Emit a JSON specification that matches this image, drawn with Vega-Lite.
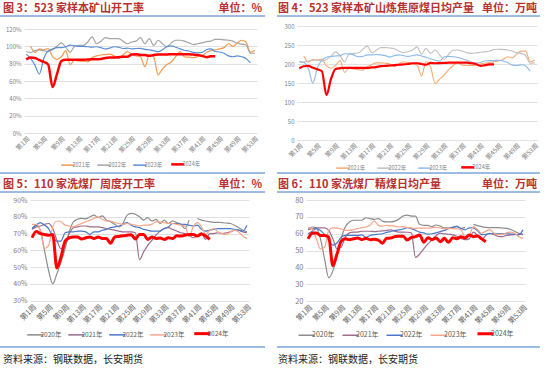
{
"$schema":"https://vega.github.io/schema/vega-lite/v6.json",
"width":550,"height":370,"padding":0,"autosize":{"type":"none"},"background":"white",
"config":{"view":{"stroke":null},"font":"Noto Sans CJK SC","axis":{"labelOverlap":false,"labelBound":false}},
"datasets":{
"p1":[
{"w":2,"y":2021,"v":100},{"w":3,"y":2021,"v":93},{"w":4,"y":2021,"v":97},{"w":5,"y":2021,"v":96},{"w":6,"y":2021,"v":97.5},{"w":7,"y":2021,"v":88},{"w":8,"y":2021,"v":85},{"w":9,"y":2021,"v":88},{"w":10,"y":2021,"v":95},{"w":11,"y":2021,"v":79},{"w":12,"y":2021,"v":84},{"w":13,"y":2021,"v":83},{"w":14,"y":2021,"v":83},{"w":15,"y":2021,"v":82},{"w":16,"y":2021,"v":87},{"w":17,"y":2021,"v":89},{"w":18,"y":2021,"v":90},{"w":19,"y":2021,"v":90.5},{"w":20,"y":2021,"v":91},{"w":21,"y":2021,"v":89},{"w":22,"y":2021,"v":86},{"w":23,"y":2021,"v":90},{"w":24,"y":2021,"v":94},{"w":25,"y":2021,"v":91},{"w":26,"y":2021,"v":89},{"w":27,"y":2021,"v":88},{"w":28,"y":2021,"v":76.5},{"w":29,"y":2021,"v":90},{"w":30,"y":2021,"v":88},{"w":31,"y":2021,"v":67},{"w":32,"y":2021,"v":74},{"w":33,"y":2021,"v":79},{"w":34,"y":2021,"v":82},{"w":35,"y":2021,"v":88},{"w":36,"y":2021,"v":94},{"w":37,"y":2021,"v":88},{"w":38,"y":2021,"v":87.5},{"w":39,"y":2021,"v":87},{"w":40,"y":2021,"v":88},{"w":41,"y":2021,"v":89},{"w":42,"y":2021,"v":93},{"w":43,"y":2021,"v":95},{"w":44,"y":2021,"v":96},{"w":45,"y":2021,"v":97},{"w":46,"y":2021,"v":98.5},{"w":47,"y":2021,"v":103},{"w":48,"y":2021,"v":100},{"w":49,"y":2021,"v":103.5},{"w":50,"y":2021,"v":107},{"w":51,"y":2021,"v":105},{"w":52,"y":2021,"v":93},{"w":53,"y":2021,"v":95.5},
{"w":1,"y":2022,"v":94},{"w":2,"y":2022,"v":93},{"w":3,"y":2022,"v":95},{"w":4,"y":2022,"v":96},{"w":5,"y":2022,"v":95},{"w":6,"y":2022,"v":94},{"w":7,"y":2022,"v":96},{"w":8,"y":2022,"v":100},{"w":9,"y":2022,"v":104},{"w":10,"y":2022,"v":99},{"w":11,"y":2022,"v":93},{"w":12,"y":2022,"v":100},{"w":13,"y":2022,"v":101},{"w":14,"y":2022,"v":101},{"w":15,"y":2022,"v":105},{"w":16,"y":2022,"v":111},{"w":17,"y":2022,"v":103},{"w":18,"y":2022,"v":106},{"w":19,"y":2022,"v":110},{"w":20,"y":2022,"v":109},{"w":21,"y":2022,"v":109},{"w":22,"y":2022,"v":109},{"w":23,"y":2022,"v":106},{"w":24,"y":2022,"v":103},{"w":25,"y":2022,"v":105},{"w":26,"y":2022,"v":106},{"w":27,"y":2022,"v":110},{"w":28,"y":2022,"v":103},{"w":29,"y":2022,"v":109},{"w":30,"y":2022,"v":101},{"w":31,"y":2022,"v":107},{"w":32,"y":2022,"v":103},{"w":33,"y":2022,"v":99.6},{"w":34,"y":2022,"v":104},{"w":35,"y":2022,"v":107},{"w":36,"y":2022,"v":107},{"w":37,"y":2022,"v":106},{"w":38,"y":2022,"v":104},{"w":39,"y":2022,"v":102},{"w":40,"y":2022,"v":103},{"w":41,"y":2022,"v":104},{"w":42,"y":2022,"v":105.4},{"w":43,"y":2022,"v":106},{"w":44,"y":2022,"v":108},{"w":45,"y":2022,"v":108},{"w":46,"y":2022,"v":107.5},{"w":47,"y":2022,"v":107},{"w":48,"y":2022,"v":106},{"w":49,"y":2022,"v":103.5},{"w":50,"y":2022,"v":102.5},{"w":51,"y":2022,"v":101.5},{"w":52,"y":2022,"v":92},{"w":53,"y":2022,"v":92},
{"w":1,"y":2023,"v":91},{"w":2,"y":2023,"v":86},{"w":3,"y":2023,"v":78},{"w":4,"y":2023,"v":68},{"w":5,"y":2023,"v":86},{"w":6,"y":2023,"v":95},{"w":7,"y":2023,"v":97},{"w":8,"y":2023,"v":98.5},{"w":9,"y":2023,"v":98.5},{"w":10,"y":2023,"v":99.5},{"w":11,"y":2023,"v":101.5},{"w":12,"y":2023,"v":100.5},{"w":13,"y":2023,"v":100},{"w":14,"y":2023,"v":100},{"w":15,"y":2023,"v":99.5},{"w":16,"y":2023,"v":99},{"w":17,"y":2023,"v":99.5},{"w":18,"y":2023,"v":98.5},{"w":19,"y":2023,"v":97},{"w":20,"y":2023,"v":98},{"w":21,"y":2023,"v":99.5},{"w":22,"y":2023,"v":99},{"w":23,"y":2023,"v":97.5},{"w":24,"y":2023,"v":98},{"w":25,"y":2023,"v":97},{"w":26,"y":2023,"v":97.5},{"w":27,"y":2023,"v":97.7},{"w":28,"y":2023,"v":96.5},{"w":29,"y":2023,"v":96},{"w":30,"y":2023,"v":95},{"w":31,"y":2023,"v":93.8},{"w":32,"y":2023,"v":96},{"w":33,"y":2023,"v":99.6},{"w":34,"y":2023,"v":100.5},{"w":35,"y":2023,"v":99},{"w":36,"y":2023,"v":97},{"w":37,"y":2023,"v":95.5},{"w":38,"y":2023,"v":94.6},{"w":39,"y":2023,"v":93},{"w":40,"y":2023,"v":92.5},{"w":41,"y":2023,"v":93},{"w":42,"y":2023,"v":96},{"w":43,"y":2023,"v":97},{"w":44,"y":2023,"v":94},{"w":45,"y":2023,"v":93.5},{"w":46,"y":2023,"v":92},{"w":47,"y":2023,"v":89},{"w":48,"y":2023,"v":88},{"w":49,"y":2023,"v":89},{"w":50,"y":2023,"v":88},{"w":51,"y":2023,"v":86},{"w":52,"y":2023,"v":81},
{"w":1,"y":2024,"v":85},{"w":2,"y":2024,"v":87},{"w":3,"y":2024,"v":86.5},{"w":4,"y":2024,"v":84},{"w":5,"y":2024,"v":82},{"w":6,"y":2024,"v":79},{"w":7,"y":2024,"v":53},{"w":8,"y":2024,"v":68},{"w":9,"y":2024,"v":83},{"w":10,"y":2024,"v":84.5},{"w":11,"y":2024,"v":84.5},{"w":12,"y":2024,"v":84.5},{"w":13,"y":2024,"v":84.5},{"w":14,"y":2024,"v":84.5},{"w":15,"y":2024,"v":84.8},{"w":16,"y":2024,"v":85},{"w":17,"y":2024,"v":85},{"w":18,"y":2024,"v":85.5},{"w":19,"y":2024,"v":86.5},{"w":20,"y":2024,"v":87},{"w":21,"y":2024,"v":87},{"w":22,"y":2024,"v":87.5},{"w":23,"y":2024,"v":88},{"w":24,"y":2024,"v":88},{"w":25,"y":2024,"v":90.5},{"w":26,"y":2024,"v":91},{"w":27,"y":2024,"v":90},{"w":28,"y":2024,"v":90},{"w":29,"y":2024,"v":89},{"w":30,"y":2024,"v":90},{"w":31,"y":2024,"v":90.5},{"w":32,"y":2024,"v":90.5},{"w":33,"y":2024,"v":90.5},{"w":34,"y":2024,"v":91},{"w":35,"y":2024,"v":91},{"w":36,"y":2024,"v":91},{"w":37,"y":2024,"v":91},{"w":38,"y":2024,"v":91},{"w":39,"y":2024,"v":90.5},{"w":40,"y":2024,"v":90},{"w":41,"y":2024,"v":89},{"w":42,"y":2024,"v":87.5},{"w":43,"y":2024,"v":88.5},{"w":44,"y":2024,"v":88.5}
],
"p2":[
{"w":2,"y":2021,"v":221},{"w":3,"y":2021,"v":205},{"w":4,"y":2021,"v":212},{"w":5,"y":2021,"v":210},{"w":6,"y":2021,"v":213},{"w":7,"y":2021,"v":195},{"w":8,"y":2021,"v":189},{"w":9,"y":2021,"v":196},{"w":10,"y":2021,"v":209},{"w":11,"y":2021,"v":178},{"w":12,"y":2021,"v":189},{"w":13,"y":2021,"v":187},{"w":14,"y":2021,"v":185},{"w":15,"y":2021,"v":184},{"w":16,"y":2021,"v":192},{"w":17,"y":2021,"v":198},{"w":18,"y":2021,"v":203},{"w":19,"y":2021,"v":203},{"w":20,"y":2021,"v":202},{"w":21,"y":2021,"v":200},{"w":22,"y":2021,"v":193},{"w":23,"y":2021,"v":200},{"w":24,"y":2021,"v":206},{"w":25,"y":2021,"v":203},{"w":26,"y":2021,"v":200},{"w":27,"y":2021,"v":198},{"w":28,"y":2021,"v":168},{"w":29,"y":2021,"v":206},{"w":30,"y":2021,"v":192},{"w":31,"y":2021,"v":149},{"w":32,"y":2021,"v":160},{"w":33,"y":2021,"v":171},{"w":34,"y":2021,"v":185},{"w":35,"y":2021,"v":196},{"w":36,"y":2021,"v":205},{"w":37,"y":2021,"v":197},{"w":38,"y":2021,"v":196},{"w":39,"y":2021,"v":196},{"w":40,"y":2021,"v":197},{"w":41,"y":2021,"v":200},{"w":42,"y":2021,"v":202},{"w":43,"y":2021,"v":204},{"w":44,"y":2021,"v":206},{"w":45,"y":2021,"v":208},{"w":46,"y":2021,"v":212},{"w":47,"y":2021,"v":219},{"w":48,"y":2021,"v":216},{"w":49,"y":2021,"v":226},{"w":50,"y":2021,"v":234},{"w":51,"y":2021,"v":234},{"w":52,"y":2021,"v":206},{"w":53,"y":2021,"v":210},
{"w":1,"y":2022,"v":206},{"w":2,"y":2022,"v":205},{"w":3,"y":2022,"v":208},{"w":4,"y":2022,"v":210},{"w":5,"y":2022,"v":210},{"w":6,"y":2022,"v":208},{"w":7,"y":2022,"v":212},{"w":8,"y":2022,"v":220},{"w":9,"y":2022,"v":232},{"w":10,"y":2022,"v":222},{"w":11,"y":2022,"v":206},{"w":12,"y":2022,"v":226},{"w":13,"y":2022,"v":228},{"w":14,"y":2022,"v":229},{"w":15,"y":2022,"v":238},{"w":16,"y":2022,"v":247},{"w":17,"y":2022,"v":230},{"w":18,"y":2022,"v":236},{"w":19,"y":2022,"v":243},{"w":20,"y":2022,"v":243},{"w":21,"y":2022,"v":242},{"w":22,"y":2022,"v":240},{"w":23,"y":2022,"v":234},{"w":24,"y":2022,"v":230},{"w":25,"y":2022,"v":232},{"w":26,"y":2022,"v":237},{"w":27,"y":2022,"v":245},{"w":28,"y":2022,"v":226},{"w":29,"y":2022,"v":241},{"w":30,"y":2022,"v":228},{"w":31,"y":2022,"v":237},{"w":32,"y":2022,"v":224},{"w":33,"y":2022,"v":212},{"w":34,"y":2022,"v":226},{"w":35,"y":2022,"v":236},{"w":36,"y":2022,"v":237},{"w":37,"y":2022,"v":234},{"w":38,"y":2022,"v":230},{"w":39,"y":2022,"v":228},{"w":40,"y":2022,"v":229},{"w":41,"y":2022,"v":231},{"w":42,"y":2022,"v":232},{"w":43,"y":2022,"v":234},{"w":44,"y":2022,"v":238},{"w":45,"y":2022,"v":239},{"w":46,"y":2022,"v":238},{"w":47,"y":2022,"v":237},{"w":48,"y":2022,"v":234},{"w":49,"y":2022,"v":230},{"w":50,"y":2022,"v":228},{"w":51,"y":2022,"v":222},{"w":52,"y":2022,"v":202},{"w":53,"y":2022,"v":203},
{"w":1,"y":2023,"v":206},{"w":2,"y":2023,"v":204},{"w":3,"y":2023,"v":188},{"w":4,"y":2023,"v":150},{"w":5,"y":2023,"v":190},{"w":6,"y":2023,"v":210},{"w":7,"y":2023,"v":218},{"w":8,"y":2023,"v":220},{"w":9,"y":2023,"v":221},{"w":10,"y":2023,"v":222},{"w":11,"y":2023,"v":227},{"w":12,"y":2023,"v":227},{"w":13,"y":2023,"v":224},{"w":14,"y":2023,"v":219},{"w":15,"y":2023,"v":220},{"w":16,"y":2023,"v":224},{"w":17,"y":2023,"v":224},{"w":18,"y":2023,"v":225},{"w":19,"y":2023,"v":224},{"w":20,"y":2023,"v":222},{"w":21,"y":2023,"v":218},{"w":22,"y":2023,"v":222},{"w":23,"y":2023,"v":224},{"w":24,"y":2023,"v":222},{"w":25,"y":2023,"v":220},{"w":26,"y":2023,"v":222},{"w":27,"y":2023,"v":224},{"w":28,"y":2023,"v":221},{"w":29,"y":2023,"v":218},{"w":30,"y":2023,"v":214},{"w":31,"y":2023,"v":210},{"w":32,"y":2023,"v":207},{"w":33,"y":2023,"v":219},{"w":34,"y":2023,"v":220},{"w":35,"y":2023,"v":219},{"w":36,"y":2023,"v":217},{"w":37,"y":2023,"v":214},{"w":38,"y":2023,"v":210},{"w":39,"y":2023,"v":205},{"w":40,"y":2023,"v":202},{"w":41,"y":2023,"v":204},{"w":42,"y":2023,"v":208},{"w":43,"y":2023,"v":209},{"w":44,"y":2023,"v":209},{"w":45,"y":2023,"v":210},{"w":46,"y":2023,"v":208},{"w":47,"y":2023,"v":204},{"w":48,"y":2023,"v":197},{"w":49,"y":2023,"v":196},{"w":50,"y":2023,"v":198},{"w":51,"y":2023,"v":195},{"w":52,"y":2023,"v":181},
{"w":1,"y":2024,"v":189},{"w":2,"y":2024,"v":194},{"w":3,"y":2024,"v":195},{"w":4,"y":2024,"v":190},{"w":5,"y":2024,"v":186},{"w":6,"y":2024,"v":181},{"w":7,"y":2024,"v":118},{"w":8,"y":2024,"v":160},{"w":9,"y":2024,"v":187},{"w":10,"y":2024,"v":189},{"w":11,"y":2024,"v":190},{"w":12,"y":2024,"v":190},{"w":13,"y":2024,"v":190},{"w":14,"y":2024,"v":190},{"w":15,"y":2024,"v":190},{"w":16,"y":2024,"v":190},{"w":17,"y":2024,"v":191},{"w":18,"y":2024,"v":192},{"w":19,"y":2024,"v":194.5},{"w":20,"y":2024,"v":195},{"w":21,"y":2024,"v":196},{"w":22,"y":2024,"v":197},{"w":23,"y":2024,"v":198},{"w":24,"y":2024,"v":199},{"w":25,"y":2024,"v":200},{"w":26,"y":2024,"v":202},{"w":27,"y":2024,"v":202},{"w":28,"y":2024,"v":200},{"w":29,"y":2024,"v":198},{"w":30,"y":2024,"v":203},{"w":31,"y":2024,"v":202},{"w":32,"y":2024,"v":202.5},{"w":33,"y":2024,"v":203},{"w":34,"y":2024,"v":203.5},{"w":35,"y":2024,"v":203.5},{"w":36,"y":2024,"v":203.5},{"w":37,"y":2024,"v":203.5},{"w":38,"y":2024,"v":203.5},{"w":39,"y":2024,"v":202},{"w":40,"y":2024,"v":200},{"w":41,"y":2024,"v":195},{"w":42,"y":2024,"v":197},{"w":43,"y":2024,"v":199},{"w":44,"y":2024,"v":199}
],
"p3":[
{"w":1,"y":2020,"v":73},{"w":2,"y":2020,"v":75},{"w":3,"y":2020,"v":72},{"w":4,"y":2020,"v":60},{"w":5,"y":2020,"v":48},{"w":6,"y":2020,"v":40},{"w":7,"y":2020,"v":46},{"w":8,"y":2020,"v":53},{"w":9,"y":2020,"v":61},{"w":10,"y":2020,"v":71},{"w":11,"y":2020,"v":77},{"w":12,"y":2020,"v":78.5},{"w":13,"y":2020,"v":79},{"w":14,"y":2020,"v":78.7},{"w":15,"y":2020,"v":80},{"w":16,"y":2020,"v":81},{"w":17,"y":2020,"v":79.5},{"w":18,"y":2020,"v":80.5},{"w":19,"y":2020,"v":78},{"w":20,"y":2020,"v":77},{"w":21,"y":2020,"v":75.5},{"w":22,"y":2020,"v":74},{"w":23,"y":2020,"v":76},{"w":24,"y":2020,"v":81},{"w":25,"y":2020,"v":82},{"w":26,"y":2020,"v":81.5},{"w":27,"y":2020,"v":80},{"w":28,"y":2020,"v":78},{"w":29,"y":2020,"v":79.5},{"w":30,"y":2020,"v":77.5},{"w":31,"y":2020,"v":78.5},{"w":32,"y":2020,"v":76},{"w":33,"y":2020,"v":78},{"w":34,"y":2020,"v":76},{"w":35,"y":2020,"v":77.5},{"w":36,"y":2020,"v":76.5},{"w":37,"y":2020,"v":75.5},{"w":38,"y":2020,"v":73},{"w":39,"y":2020,"v":78},{"w":40,"y":2020,"v":null},{"w":41,"y":2020,"v":79},{"w":42,"y":2020,"v":78},{"w":43,"y":2020,"v":77.5},{"w":44,"y":2020,"v":77},{"w":45,"y":2020,"v":76.7},{"w":46,"y":2020,"v":76.7},{"w":47,"y":2020,"v":76.5},{"w":48,"y":2020,"v":76.3},{"w":49,"y":2020,"v":76},{"w":50,"y":2020,"v":75},{"w":51,"y":2020,"v":73.5},{"w":52,"y":2020,"v":72},{"w":53,"y":2020,"v":71},
{"w":1,"y":2021,"v":72.5},{"w":2,"y":2021,"v":74},{"w":3,"y":2021,"v":74.5},{"w":4,"y":2021,"v":75.5},{"w":5,"y":2021,"v":76},{"w":6,"y":2021,"v":73},{"w":7,"y":2021,"v":66},{"w":8,"y":2021,"v":61},{"w":9,"y":2021,"v":64},{"w":10,"y":2021,"v":70},{"w":11,"y":2021,"v":73.5},{"w":12,"y":2021,"v":74},{"w":13,"y":2021,"v":74.5},{"w":14,"y":2021,"v":74.5},{"w":15,"y":2021,"v":74},{"w":16,"y":2021,"v":74},{"w":17,"y":2021,"v":74},{"w":18,"y":2021,"v":73.5},{"w":19,"y":2021,"v":73},{"w":20,"y":2021,"v":72.5},{"w":21,"y":2021,"v":72},{"w":22,"y":2021,"v":71.5},{"w":23,"y":2021,"v":71},{"w":24,"y":2021,"v":71},{"w":25,"y":2021,"v":71},{"w":26,"y":2021,"v":70.5},{"w":27,"y":2021,"v":54.5},{"w":28,"y":2021,"v":59},{"w":29,"y":2021,"v":63},{"w":30,"y":2021,"v":66},{"w":31,"y":2021,"v":69},{"w":32,"y":2021,"v":71.5},{"w":33,"y":2021,"v":73},{"w":34,"y":2021,"v":73.5},{"w":35,"y":2021,"v":72.5},{"w":36,"y":2021,"v":71.5},{"w":37,"y":2021,"v":70.5},{"w":38,"y":2021,"v":70},{"w":39,"y":2021,"v":69},{"w":40,"y":2021,"v":67.5},{"w":41,"y":2021,"v":68.5},{"w":42,"y":2021,"v":70.5},{"w":43,"y":2021,"v":66.5},{"w":44,"y":2021,"v":70},{"w":45,"y":2021,"v":70},{"w":46,"y":2021,"v":70.5},{"w":47,"y":2021,"v":70},{"w":48,"y":2021,"v":70.5},{"w":49,"y":2021,"v":71},{"w":50,"y":2021,"v":72},{"w":51,"y":2021,"v":72},{"w":52,"y":2021,"v":71},{"w":53,"y":2021,"v":70.5},
{"w":1,"y":2022,"v":73},{"w":2,"y":2022,"v":75},{"w":3,"y":2022,"v":76.5},{"w":4,"y":2022,"v":75},{"w":5,"y":2022,"v":73},{"w":6,"y":2022,"v":68},{"w":7,"y":2022,"v":65.5},{"w":8,"y":2022,"v":65.5},{"w":9,"y":2022,"v":70.5},{"w":10,"y":2022,"v":71},{"w":11,"y":2022,"v":71},{"w":12,"y":2022,"v":71.5},{"w":13,"y":2022,"v":71.5},{"w":14,"y":2022,"v":71},{"w":15,"y":2022,"v":69.5},{"w":16,"y":2022,"v":71},{"w":17,"y":2022,"v":71},{"w":18,"y":2022,"v":72},{"w":19,"y":2022,"v":72.5},{"w":20,"y":2022,"v":73.5},{"w":21,"y":2022,"v":74},{"w":22,"y":2022,"v":74.5},{"w":23,"y":2022,"v":75.5},{"w":24,"y":2022,"v":76.5},{"w":25,"y":2022,"v":75},{"w":26,"y":2022,"v":74},{"w":27,"y":2022,"v":73.5},{"w":28,"y":2022,"v":72.5},{"w":29,"y":2022,"v":72},{"w":30,"y":2022,"v":71.5},{"w":31,"y":2022,"v":71.5},{"w":32,"y":2022,"v":71.5},{"w":33,"y":2022,"v":73},{"w":34,"y":2022,"v":74},{"w":35,"y":2022,"v":76},{"w":36,"y":2022,"v":76},{"w":37,"y":2022,"v":75.5},{"w":38,"y":2022,"v":75.5},{"w":39,"y":2022,"v":75},{"w":40,"y":2022,"v":74.5},{"w":41,"y":2022,"v":75},{"w":42,"y":2022,"v":72.5},{"w":43,"y":2022,"v":71.5},{"w":44,"y":2022,"v":72},{"w":45,"y":2022,"v":72.5},{"w":46,"y":2022,"v":73},{"w":47,"y":2022,"v":73},{"w":48,"y":2022,"v":73},{"w":49,"y":2022,"v":73},{"w":50,"y":2022,"v":72.5},{"w":51,"y":2022,"v":72},{"w":52,"y":2022,"v":71.5},{"w":53,"y":2022,"v":75},
{"w":1,"y":2023,"v":75.5},{"w":2,"y":2023,"v":75.5},{"w":3,"y":2023,"v":72},{"w":4,"y":2023,"v":61},{"w":5,"y":2023,"v":63},{"w":6,"y":2023,"v":74},{"w":7,"y":2023,"v":77.5},{"w":8,"y":2023,"v":77},{"w":9,"y":2023,"v":75},{"w":10,"y":2023,"v":74.5},{"w":11,"y":2023,"v":74},{"w":12,"y":2023,"v":75},{"w":13,"y":2023,"v":76},{"w":14,"y":2023,"v":77},{"w":15,"y":2023,"v":78},{"w":16,"y":2023,"v":79},{"w":17,"y":2023,"v":80},{"w":18,"y":2023,"v":78.5},{"w":19,"y":2023,"v":77.5},{"w":20,"y":2023,"v":77.5},{"w":21,"y":2023,"v":76.5},{"w":22,"y":2023,"v":76},{"w":23,"y":2023,"v":75.5},{"w":24,"y":2023,"v":76},{"w":25,"y":2023,"v":75.5},{"w":26,"y":2023,"v":75},{"w":27,"y":2023,"v":74.5},{"w":28,"y":2023,"v":75},{"w":29,"y":2023,"v":75},{"w":30,"y":2023,"v":75.5},{"w":31,"y":2023,"v":77},{"w":32,"y":2023,"v":77},{"w":33,"y":2023,"v":76.5},{"w":34,"y":2023,"v":76},{"w":35,"y":2023,"v":76},{"w":36,"y":2023,"v":75.5},{"w":37,"y":2023,"v":75},{"w":38,"y":2023,"v":74.5},{"w":39,"y":2023,"v":68},{"w":40,"y":2023,"v":74},{"w":41,"y":2023,"v":76.5},{"w":42,"y":2023,"v":74},{"w":43,"y":2023,"v":69.5},{"w":44,"y":2023,"v":72},{"w":45,"y":2023,"v":73},{"w":46,"y":2023,"v":71},{"w":47,"y":2023,"v":70},{"w":48,"y":2023,"v":69.5},{"w":49,"y":2023,"v":71},{"w":50,"y":2023,"v":72},{"w":51,"y":2023,"v":71},{"w":52,"y":2023,"v":68.5},{"w":53,"y":2023,"v":67},
{"w":1,"y":2024,"v":67.5},{"w":2,"y":2024,"v":71.3},{"w":3,"y":2024,"v":70},{"w":4,"y":2024,"v":69.5},{"w":5,"y":2024,"v":69},{"w":6,"y":2024,"v":69.5},{"w":7,"y":2024,"v":49.5},{"w":8,"y":2024,"v":56},{"w":9,"y":2024,"v":65.5},{"w":10,"y":2024,"v":67.5},{"w":11,"y":2024,"v":68},{"w":12,"y":2024,"v":68},{"w":13,"y":2024,"v":66.8},{"w":14,"y":2024,"v":67.5},{"w":15,"y":2024,"v":68},{"w":16,"y":2024,"v":67},{"w":17,"y":2024,"v":68},{"w":18,"y":2024,"v":67},{"w":19,"y":2024,"v":67},{"w":20,"y":2024,"v":64.2},{"w":21,"y":2024,"v":68},{"w":22,"y":2024,"v":68.3},{"w":23,"y":2024,"v":68.7},{"w":24,"y":2024,"v":69},{"w":25,"y":2024,"v":69.3},{"w":26,"y":2024,"v":66.8},{"w":27,"y":2024,"v":69.5},{"w":28,"y":2024,"v":69.5},{"w":29,"y":2024,"v":66.5},{"w":30,"y":2024,"v":68},{"w":31,"y":2024,"v":67},{"w":32,"y":2024,"v":67.3},{"w":33,"y":2024,"v":66.5},{"w":34,"y":2024,"v":67.5},{"w":35,"y":2024,"v":67},{"w":36,"y":2024,"v":68.7},{"w":37,"y":2024,"v":68.5},{"w":38,"y":2024,"v":69},{"w":39,"y":2024,"v":69.5},{"w":40,"y":2024,"v":69.5},{"w":41,"y":2024,"v":68.5},{"w":42,"y":2024,"v":69.8},{"w":43,"y":2024,"v":68.5},{"w":44,"y":2024,"v":66.5}
],
"p4":[
{"w":1,"y":2020,"v":63},{"w":2,"y":2020,"v":64},{"w":3,"y":2020,"v":63.5},{"w":4,"y":2020,"v":57},{"w":5,"y":2020,"v":45},{"w":6,"y":2020,"v":34},{"w":7,"y":2020,"v":38},{"w":8,"y":2020,"v":47},{"w":9,"y":2020,"v":57},{"w":10,"y":2020,"v":64},{"w":11,"y":2020,"v":67},{"w":12,"y":2020,"v":68},{"w":13,"y":2020,"v":68},{"w":14,"y":2020,"v":68},{"w":15,"y":2020,"v":69.5},{"w":16,"y":2020,"v":69},{"w":17,"y":2020,"v":68.5},{"w":18,"y":2020,"v":69},{"w":19,"y":2020,"v":67.5},{"w":20,"y":2020,"v":67},{"w":21,"y":2020,"v":67},{"w":22,"y":2020,"v":67.5},{"w":23,"y":2020,"v":68.8},{"w":24,"y":2020,"v":70.5},{"w":25,"y":2020,"v":71},{"w":26,"y":2020,"v":70.5},{"w":27,"y":2020,"v":70.5},{"w":28,"y":2020,"v":65.6},{"w":29,"y":2020,"v":65},{"w":30,"y":2020,"v":65},{"w":31,"y":2020,"v":64.2},{"w":32,"y":2020,"v":65.2},{"w":33,"y":2020,"v":64.5},{"w":34,"y":2020,"v":63.5},{"w":35,"y":2020,"v":63.5},{"w":36,"y":2020,"v":64},{"w":37,"y":2020,"v":64.6},{"w":38,"y":2020,"v":63.2},{"w":39,"y":2020,"v":63.6},{"w":40,"y":2020,"v":null},{"w":41,"y":2020,"v":65.6},{"w":42,"y":2020,"v":64.8},{"w":43,"y":2020,"v":64.2},{"w":44,"y":2020,"v":63.8},{"w":45,"y":2020,"v":63.6},{"w":46,"y":2020,"v":63.6},{"w":47,"y":2020,"v":63.6},{"w":48,"y":2020,"v":63.4},{"w":49,"y":2020,"v":63.2},{"w":50,"y":2020,"v":62.5},{"w":51,"y":2020,"v":61.5},{"w":52,"y":2020,"v":60.2},{"w":53,"y":2020,"v":59.5},
{"w":1,"y":2021,"v":62.5},{"w":2,"y":2021,"v":63},{"w":3,"y":2021,"v":63.5},{"w":4,"y":2021,"v":63.5},{"w":5,"y":2021,"v":63.5},{"w":6,"y":2021,"v":62},{"w":7,"y":2021,"v":57},{"w":8,"y":2021,"v":51},{"w":9,"y":2021,"v":52},{"w":10,"y":2021,"v":58},{"w":11,"y":2021,"v":60.5},{"w":12,"y":2021,"v":61},{"w":13,"y":2021,"v":61},{"w":14,"y":2021,"v":61.5},{"w":15,"y":2021,"v":61.5},{"w":16,"y":2021,"v":61.5},{"w":17,"y":2021,"v":61.3},{"w":18,"y":2021,"v":61.5},{"w":19,"y":2021,"v":61.7},{"w":20,"y":2021,"v":62},{"w":21,"y":2021,"v":62.3},{"w":22,"y":2021,"v":61.5},{"w":23,"y":2021,"v":61},{"w":24,"y":2021,"v":61},{"w":25,"y":2021,"v":60.9},{"w":26,"y":2021,"v":60.5},{"w":27,"y":2021,"v":46},{"w":28,"y":2021,"v":48},{"w":29,"y":2021,"v":51},{"w":30,"y":2021,"v":54},{"w":31,"y":2021,"v":56.5},{"w":32,"y":2021,"v":59},{"w":33,"y":2021,"v":60.3},{"w":34,"y":2021,"v":60},{"w":35,"y":2021,"v":59.7},{"w":36,"y":2021,"v":59.3},{"w":37,"y":2021,"v":58.5},{"w":38,"y":2021,"v":57.3},{"w":39,"y":2021,"v":56.5},{"w":40,"y":2021,"v":57},{"w":41,"y":2021,"v":61},{"w":42,"y":2021,"v":59},{"w":43,"y":2021,"v":56.5},{"w":44,"y":2021,"v":59},{"w":45,"y":2021,"v":60.3},{"w":46,"y":2021,"v":59.5},{"w":47,"y":2021,"v":58.5},{"w":48,"y":2021,"v":58.3},{"w":49,"y":2021,"v":59},{"w":50,"y":2021,"v":59.3},{"w":51,"y":2021,"v":59.5},{"w":52,"y":2021,"v":59.7},{"w":53,"y":2021,"v":59.8},
{"w":1,"y":2022,"v":60},{"w":2,"y":2022,"v":61.5},{"w":3,"y":2022,"v":63},{"w":4,"y":2022,"v":62},{"w":5,"y":2022,"v":59.5},{"w":6,"y":2022,"v":56},{"w":7,"y":2022,"v":53.3},{"w":8,"y":2022,"v":54.5},{"w":9,"y":2022,"v":58},{"w":10,"y":2022,"v":59},{"w":11,"y":2022,"v":59},{"w":12,"y":2022,"v":59},{"w":13,"y":2022,"v":59},{"w":14,"y":2022,"v":59.3},{"w":15,"y":2022,"v":57.9},{"w":16,"y":2022,"v":59},{"w":17,"y":2022,"v":59.5},{"w":18,"y":2022,"v":59.7},{"w":19,"y":2022,"v":60},{"w":20,"y":2022,"v":60.8},{"w":21,"y":2022,"v":61.3},{"w":22,"y":2022,"v":62},{"w":23,"y":2022,"v":62.3},{"w":24,"y":2022,"v":62.8},{"w":25,"y":2022,"v":63.6},{"w":26,"y":2022,"v":63},{"w":27,"y":2022,"v":62},{"w":28,"y":2022,"v":61},{"w":29,"y":2022,"v":60.5},{"w":30,"y":2022,"v":59.8},{"w":31,"y":2022,"v":60},{"w":32,"y":2022,"v":60.5},{"w":33,"y":2022,"v":61.3},{"w":34,"y":2022,"v":62},{"w":35,"y":2022,"v":63},{"w":36,"y":2022,"v":63.6},{"w":37,"y":2022,"v":64.2},{"w":38,"y":2022,"v":63.2},{"w":39,"y":2022,"v":62.3},{"w":40,"y":2022,"v":63.5},{"w":41,"y":2022,"v":63.5},{"w":42,"y":2022,"v":61.8},{"w":43,"y":2022,"v":59.5},{"w":44,"y":2022,"v":59.7},{"w":45,"y":2022,"v":60},{"w":46,"y":2022,"v":60.3},{"w":47,"y":2022,"v":60},{"w":48,"y":2022,"v":60},{"w":49,"y":2022,"v":60},{"w":50,"y":2022,"v":59.8},{"w":51,"y":2022,"v":59.7},{"w":52,"y":2022,"v":59.3},{"w":53,"y":2022,"v":62.3},
{"w":1,"y":2023,"v":63.5},{"w":2,"y":2023,"v":63},{"w":3,"y":2023,"v":57},{"w":4,"y":2023,"v":51},{"w":5,"y":2023,"v":52},{"w":6,"y":2023,"v":62},{"w":7,"y":2023,"v":63.5},{"w":8,"y":2023,"v":63.3},{"w":9,"y":2023,"v":62.8},{"w":10,"y":2023,"v":62},{"w":11,"y":2023,"v":62},{"w":12,"y":2023,"v":62.5},{"w":13,"y":2023,"v":63},{"w":14,"y":2023,"v":63.6},{"w":15,"y":2023,"v":64},{"w":16,"y":2023,"v":65},{"w":17,"y":2023,"v":67.6},{"w":18,"y":2023,"v":65},{"w":19,"y":2023,"v":64.5},{"w":20,"y":2023,"v":65},{"w":21,"y":2023,"v":64.8},{"w":22,"y":2023,"v":64.5},{"w":23,"y":2023,"v":64},{"w":24,"y":2023,"v":64.2},{"w":25,"y":2023,"v":63.8},{"w":26,"y":2023,"v":63.5},{"w":27,"y":2023,"v":63.2},{"w":28,"y":2023,"v":63.4},{"w":29,"y":2023,"v":63.4},{"w":30,"y":2023,"v":63.4},{"w":31,"y":2023,"v":63.5},{"w":32,"y":2023,"v":63.8},{"w":33,"y":2023,"v":63.4},{"w":34,"y":2023,"v":63},{"w":35,"y":2023,"v":63},{"w":36,"y":2023,"v":63},{"w":37,"y":2023,"v":63},{"w":38,"y":2023,"v":62.3},{"w":39,"y":2023,"v":58.3},{"w":40,"y":2023,"v":59},{"w":41,"y":2023,"v":64.2},{"w":42,"y":2023,"v":62.5},{"w":43,"y":2023,"v":60.3},{"w":44,"y":2023,"v":61.5},{"w":45,"y":2023,"v":62.5},{"w":46,"y":2023,"v":60.3},{"w":47,"y":2023,"v":59.5},{"w":48,"y":2023,"v":59.5},{"w":49,"y":2023,"v":60.5},{"w":50,"y":2023,"v":61},{"w":51,"y":2023,"v":60.3},{"w":52,"y":2023,"v":58.3},{"w":53,"y":2023,"v":57.3},
{"w":1,"y":2024,"v":57},{"w":2,"y":2024,"v":60.3},{"w":3,"y":2024,"v":60.5},{"w":4,"y":2024,"v":59},{"w":5,"y":2024,"v":59},{"w":6,"y":2024,"v":58},{"w":7,"y":2024,"v":41},{"w":8,"y":2024,"v":48},{"w":9,"y":2024,"v":55.5},{"w":10,"y":2024,"v":57},{"w":11,"y":2024,"v":56.5},{"w":12,"y":2024,"v":57},{"w":13,"y":2024,"v":57.5},{"w":14,"y":2024,"v":56.5},{"w":15,"y":2024,"v":57.3},{"w":16,"y":2024,"v":56.5},{"w":17,"y":2024,"v":56.8},{"w":18,"y":2024,"v":56.3},{"w":19,"y":2024,"v":54.4},{"w":20,"y":2024,"v":57.3},{"w":21,"y":2024,"v":57.5},{"w":22,"y":2024,"v":58.3},{"w":23,"y":2024,"v":58.5},{"w":24,"y":2024,"v":58.6},{"w":25,"y":2024,"v":56.3},{"w":26,"y":2024,"v":57.8},{"w":27,"y":2024,"v":58.3},{"w":28,"y":2024,"v":59.3},{"w":29,"y":2024,"v":55},{"w":30,"y":2024,"v":57.7},{"w":31,"y":2024,"v":56.5},{"w":32,"y":2024,"v":57.5},{"w":33,"y":2024,"v":55.3},{"w":34,"y":2024,"v":57.3},{"w":35,"y":2024,"v":55},{"w":36,"y":2024,"v":57.7},{"w":37,"y":2024,"v":57},{"w":38,"y":2024,"v":58.3},{"w":39,"y":2024,"v":57.5},{"w":40,"y":2024,"v":59.3},{"w":41,"y":2024,"v":58.3},{"w":42,"y":2024,"v":58.7},{"w":43,"y":2024,"v":57},{"w":44,"y":2024,"v":55.3}
]},
"layer":[
 {"data":{"name":"p1"},"mark":{"type":"line","interpolate":"monotone"},
  "encoding":{
   "x":{"field":"w","type":"quantitative","scale":{"domain":[0.5,53.5],"range":[24,257],"nice":false,"zero":false},
        "axis":{"orient":"bottom","offset":-237,"values":[1,5,9,13,17,21,25,29,33,37,41,45,49,53],"labelExpr":"'第' + datum.value + '周'","labelAngle":-45,"labelAlign":"right","labelBaseline":"top","labelFontSize":6.5,"labelColor":"#7F7F7F","labelPadding":2,"domain":false,"ticks":false,"grid":false,"title":null}},
   "y":{"field":"v","type":"quantitative","scale":{"domain":[0,120],"range":[133,29],"nice":false,"zero":false},
        "axis":{"orient":"left","offset":-24,"values":[0,20,40,60,80,100,120],"labelExpr":"datum.value + '%'","labelFontSize":6,"labelColor":"#7F7F7F","labelPadding":3,"domain":false,"ticks":false,"grid":true,"gridColor":"#D9D9D9","gridWidth":0.8,"title":null}},
   "color":{"field":"y","type":"nominal","scale":{"domain":[2021,2022,2023,2024],"range":["#F39A50","#A5A5A5","#5B8FD8","#FF0000"]},
        "legend":{"orient":"none","legendX":65,"legendY":161.5,"direction":"horizontal","title":null,"symbolType":"stroke","symbolSize":169,"symbolStrokeWidth":{"expr":"datum.value == 2024 ? 2.5 : 1.5"},"labelExpr":"datum.label + '年'","labelFontSize":5.5,"labelColor":"#7F7F7F","columnPadding":3,"labelOffset":2}},
   "strokeWidth":{"condition":{"test":"datum.y == 2024","value":2.5},"value":1.2}}},
 {"data":{"values":[{}]},"mark":{"type":"text","align":"left","baseline":"middle","fontSize":11,"fontWeight":"bold","color":"#B8312F"},
  "encoding":{"x":{"datum":-4.28,"type":"quantitative","scale":{"domain":[0.5,53.5],"range":[24,257],"nice":false,"zero":false},"axis":null},
   "y":{"datum":143.1,"type":"quantitative","scale":{"domain":[0,120],"range":[133,29],"nice":false,"zero":false},"axis":null},
   "text":{"value":"图 3：523 家样本矿山开工率"}}},
 {"data":{"values":[{}]},"mark":{"type":"text","align":"right","baseline":"middle","fontSize":11,"fontWeight":"bold","color":"#B8312F"},
  "encoding":{"x":{"datum":54.64,"type":"quantitative","scale":{"domain":[0.5,53.5],"range":[24,257],"nice":false,"zero":false},"axis":null},
   "y":{"datum":143.1,"type":"quantitative","scale":{"domain":[0,120],"range":[133,29],"nice":false,"zero":false},"axis":null},
   "text":{"value":"单位：%"}}},
 {"data":{"values":[{}]},"mark":{"type":"rule","color":"#9DBCE3","strokeWidth":2},
  "encoding":{"x":{"datum":-4.96,"type":"quantitative","scale":{"domain":[0.5,53.5],"range":[24,257],"nice":false,"zero":false},"axis":null},"x2":{"datum":55.32},
   "y":{"datum":135,"type":"quantitative","scale":{"domain":[0,120],"range":[133,29],"nice":false,"zero":false},"axis":null}}},
 {"data":{"values":[{}]},"mark":{"type":"rule","color":"#9DBCE3","strokeWidth":2},
  "encoding":{"x":{"datum":-4.96,"type":"quantitative","scale":{"domain":[0.5,53.5],"range":[24,257],"nice":false,"zero":false},"axis":null},"x2":{"datum":55.32},
   "y":{"datum":-46.15,"type":"quantitative","scale":{"domain":[0,120],"range":[133,29],"nice":false,"zero":false},"axis":null}}},

 {"data":{"name":"p2"},"mark":{"type":"line","interpolate":"monotone"},
  "encoding":{
   "x":{"field":"w","type":"quantitative","scale":{"domain":[0.5,53.5],"range":[297,537],"nice":false,"zero":false},
        "axis":{"orient":"bottom","offset":-230,"values":[1,5,9,13,17,21,25,29,33,37,41,45,49,53],"labelExpr":"'第' + datum.value + '周'","labelAngle":-45,"labelAlign":"right","labelBaseline":"top","labelFontSize":6.5,"labelColor":"#7F7F7F","labelPadding":2,"domain":false,"ticks":false,"grid":false,"title":null}},
   "y":{"field":"v","type":"quantitative","scale":{"domain":[0,300],"range":[140,26],"nice":false,"zero":false},
        "axis":{"orient":"left","offset":-297,"values":[0,50,100,150,200,250,300],"labelFontSize":6,"labelColor":"#7F7F7F","labelPadding":3,"domain":false,"ticks":false,"grid":true,"gridColor":"#D9D9D9","gridWidth":0.8,"title":null}},
   "color":{"field":"y","type":"nominal","scale":{"domain":[2021,2022,2023,2024],"range":["#F7AA70","#C0C0C0","#8DBBE8","#FF0000"]},
        "legend":{"orient":"none","legendX":340,"legendY":164.5,"direction":"horizontal","title":null,"symbolType":"stroke","symbolSize":169,"symbolStrokeWidth":{"expr":"datum.value == 2024 ? 2.5 : 1.5"},"labelExpr":"datum.label + '年'","labelFontSize":5.5,"labelColor":"#7F7F7F","columnPadding":8,"labelOffset":2}},
   "strokeWidth":{"condition":{"test":"datum.y == 2024","value":2.2},"value":1.1}}},
 {"data":{"values":[{}]},"mark":{"type":"text","align":"left","baseline":"middle","fontSize":11,"fontWeight":"bold","color":"#B8312F"},
  "encoding":{"x":{"datum":-3.7,"type":"quantitative","scale":{"domain":[0.5,53.5],"range":[297,537],"nice":false,"zero":false},"axis":null},
   "y":{"datum":344.7,"type":"quantitative","scale":{"domain":[0,300],"range":[140,26],"nice":false,"zero":false},"axis":null},
   "text":{"value":"图 4：523 家样本矿山炼焦原煤日均产量"}}},
 {"data":{"values":[{}]},"mark":{"type":"text","align":"right","baseline":"middle","fontSize":11,"fontWeight":"bold","color":"#B8312F"},
  "encoding":{"x":{"datum":53.5,"type":"quantitative","scale":{"domain":[0.5,53.5],"range":[297,537],"nice":false,"zero":false},"axis":null},
   "y":{"datum":344.7,"type":"quantitative","scale":{"domain":[0,300],"range":[140,26],"nice":false,"zero":false},"axis":null},
   "text":{"value":"单位：万吨"}}},
 {"data":{"values":[{}]},"mark":{"type":"rule","color":"#9DBCE3","strokeWidth":2},
  "encoding":{"x":{"datum":-3.92,"type":"quantitative","scale":{"domain":[0.5,53.5],"range":[297,537],"nice":false,"zero":false},"axis":null},"x2":{"datum":54.16},
   "y":{"datum":326.3,"type":"quantitative","scale":{"domain":[0,300],"range":[140,26],"nice":false,"zero":false},"axis":null}}},
 {"data":{"values":[{}]},"mark":{"type":"rule","color":"#9DBCE3","strokeWidth":2},
  "encoding":{"x":{"datum":-3.92,"type":"quantitative","scale":{"domain":[0.5,53.5],"range":[297,537],"nice":false,"zero":false},"axis":null},"x2":{"datum":54.16},
   "y":{"datum":-86.8,"type":"quantitative","scale":{"domain":[0,300],"range":[140,26],"nice":false,"zero":false},"axis":null}}},

 {"data":{"name":"p3"},"mark":{"type":"line","interpolate":"monotone","invalid":"break-paths-show-domains"},
  "encoding":{
   "x":{"field":"w","type":"quantitative","scale":{"domain":[0.5,53.5],"range":[30,249],"nice":false,"zero":false},
        "axis":{"orient":"bottom","offset":-69.3,"values":[1,5,9,13,17,21,25,29,33,37,41,45,49,53],"labelExpr":"'第' + datum.value + '周'","labelAngle":-45,"labelAlign":"right","labelBaseline":"top","labelFontSize":7.5,"labelColor":"#666666","labelPadding":2,"domain":false,"ticks":false,"grid":false,"title":null}},
   "y":{"field":"v","type":"quantitative","scale":{"domain":[30,90],"range":[300.7,200],"nice":false,"zero":false},
        "axis":{"orient":"left","offset":-30,"values":[30,40,50,60,70,80,90],"labelExpr":"datum.value + '%'","labelFontSize":7,"labelColor":"#7F7F7F","labelPadding":3,"domain":false,"ticks":false,"grid":true,"gridColor":"#D9D9D9","gridWidth":0.8,"title":null}},
   "color":{"field":"y","type":"nominal","scale":{"domain":[2020,2021,2022,2023,2024],"range":["#8C8C8C","#9E6D8E","#4A78C8","#F8A68A","#FF0000"]},
        "legend":{"orient":"none","legendX":32,"legendY":330,"direction":"horizontal","title":null,"symbolType":"stroke","symbolSize":256,"symbolStrokeWidth":{"expr":"datum.value == 2024 ? 3 : 1.5"},"labelExpr":"datum.label + '年'","labelFontSize":6.5,"labelColor":"#595959","columnPadding":3,"labelOffset":2}},
   "strokeWidth":{"condition":{"test":"datum.y == 2024","value":3},"value":1.2}}},
 {"data":{"values":[{}]},"mark":{"type":"text","align":"left","baseline":"middle","fontSize":11,"fontWeight":"bold","color":"#B8312F"},
  "encoding":{"x":{"datum":-6.03,"type":"quantitative","scale":{"domain":[0.5,53.5],"range":[30,249],"nice":false,"zero":false},"axis":null},
   "y":{"datum":98.94,"type":"quantitative","scale":{"domain":[30,90],"range":[300.7,200],"nice":false,"zero":false},"axis":null},
   "text":{"value":"图 5：110 家洗煤厂周度开工率"}}},
 {"data":{"values":[{}]},"mark":{"type":"text","align":"right","baseline":"middle","fontSize":11,"fontWeight":"bold","color":"#B8312F"},
  "encoding":{"x":{"datum":56.65,"type":"quantitative","scale":{"domain":[0.5,53.5],"range":[30,249],"nice":false,"zero":false},"axis":null},
   "y":{"datum":98.94,"type":"quantitative","scale":{"domain":[30,90],"range":[300.7,200],"nice":false,"zero":false},"axis":null},
   "text":{"value":"单位：%"}}},
 {"data":{"values":[{}]},"mark":{"type":"text","align":"left","baseline":"middle","fontSize":10,"color":"#222222"},
  "encoding":{"x":{"datum":-6.03,"type":"quantitative","scale":{"domain":[0.5,53.5],"range":[30,249],"nice":false,"zero":false},"axis":null},
   "y":{"datum":-5.33,"type":"quantitative","scale":{"domain":[30,90],"range":[300.7,200],"nice":false,"zero":false},"axis":null},
   "text":{"value":"资料来源：钢联数据，长安期货"}}},
 {"data":{"values":[{}]},"mark":{"type":"rule","color":"#9DBCE3","strokeWidth":2},
  "encoding":{"x":{"datum":-6.76,"type":"quantitative","scale":{"domain":[0.5,53.5],"range":[30,249],"nice":false,"zero":false},"axis":null},"x2":{"datum":57.37},
   "y":{"datum":94.77,"type":"quantitative","scale":{"domain":[30,90],"range":[300.7,200],"nice":false,"zero":false},"axis":null}}},
 {"data":{"values":[{}]},"mark":{"type":"rule","color":"#9DBCE3","strokeWidth":2},
  "encoding":{"x":{"datum":-6.76,"type":"quantitative","scale":{"domain":[0.5,53.5],"range":[30,249],"nice":false,"zero":false},"axis":null},"x2":{"datum":57.37},
   "y":{"datum":2.41,"type":"quantitative","scale":{"domain":[30,90],"range":[300.7,200],"nice":false,"zero":false},"axis":null}}},

 {"data":{"name":"p4"},"mark":{"type":"line","interpolate":"monotone","invalid":"break-paths-show-domains"},
  "encoding":{
   "x":{"field":"w","type":"quantitative","scale":{"domain":[0.5,53.5],"range":[306,525],"nice":false,"zero":false},
        "axis":{"orient":"bottom","offset":-68.7,"values":[1,5,9,13,17,21,25,29,33,37,41,45,49,53],"labelExpr":"'第' + datum.value + '周'","labelAngle":-45,"labelAlign":"right","labelBaseline":"top","labelFontSize":7.5,"labelColor":"#666666","labelPadding":2,"domain":false,"ticks":false,"grid":false,"title":null}},
   "y":{"field":"v","type":"quantitative","scale":{"domain":[20,80],"range":[301.3,200],"nice":false,"zero":false},
        "axis":{"orient":"left","offset":-306,"values":[20,30,40,50,60,70,80],"labelFontSize":7.5,"labelColor":"#7F7F7F","labelPadding":3,"domain":false,"ticks":false,"grid":true,"gridColor":"#D9D9D9","gridWidth":0.8,"title":null}},
   "color":{"field":"y","type":"nominal","scale":{"domain":[2020,2021,2022,2023,2024],"range":["#8C8C8C","#9E6D8E","#4A78C8","#F8A68A","#FF0000"]},
        "legend":{"orient":"none","legendX":303,"legendY":330,"direction":"horizontal","title":null,"symbolType":"stroke","symbolSize":256,"symbolStrokeWidth":{"expr":"datum.value == 2024 ? 3 : 1.5"},"labelExpr":"datum.label + '年'","labelFontSize":7,"labelColor":"#595959","columnPadding":4,"labelOffset":2}},
   "strokeWidth":{"condition":{"test":"datum.y == 2024","value":3},"value":1.2}}},
 {"data":{"values":[{}]},"mark":{"type":"text","align":"left","baseline":"middle","fontSize":11,"fontWeight":"bold","color":"#B8312F"},
  "encoding":{"x":{"datum":-6.28,"type":"quantitative","scale":{"domain":[0.5,53.5],"range":[306,525],"nice":false,"zero":false},"axis":null},
   "y":{"datum":88.88,"type":"quantitative","scale":{"domain":[20,80],"range":[301.3,200],"nice":false,"zero":false},"axis":null},
   "text":{"value":"图 6：110 家洗煤厂精煤日均产量"}}},
 {"data":{"values":[{}]},"mark":{"type":"text","align":"right","baseline":"middle","fontSize":11,"fontWeight":"bold","color":"#B8312F"},
  "encoding":{"x":{"datum":56.4,"type":"quantitative","scale":{"domain":[0.5,53.5],"range":[306,525],"nice":false,"zero":false},"axis":null},
   "y":{"datum":88.88,"type":"quantitative","scale":{"domain":[20,80],"range":[301.3,200],"nice":false,"zero":false},"axis":null},
   "text":{"value":"单位：万吨"}}},
 {"data":{"values":[{}]},"mark":{"type":"text","align":"left","baseline":"middle","fontSize":10,"color":"#222222"},
  "encoding":{"x":{"datum":-6.28,"type":"quantitative","scale":{"domain":[0.5,53.5],"range":[306,525],"nice":false,"zero":false},"axis":null},
   "y":{"datum":-14.77,"type":"quantitative","scale":{"domain":[20,80],"range":[301.3,200],"nice":false,"zero":false},"axis":null},
   "text":{"value":"资料来源：钢联数据，长安期货"}}},
 {"data":{"values":[{}]},"mark":{"type":"rule","color":"#9DBCE3","strokeWidth":2},
  "encoding":{"x":{"datum":-6.52,"type":"quantitative","scale":{"domain":[0.5,53.5],"range":[306,525],"nice":false,"zero":false},"axis":null},"x2":{"datum":57.13},
   "y":{"datum":84.74,"type":"quantitative","scale":{"domain":[20,80],"range":[301.3,200],"nice":false,"zero":false},"axis":null}}},
 {"data":{"values":[{}]},"mark":{"type":"rule","color":"#9DBCE3","strokeWidth":2},
  "encoding":{"x":{"datum":-6.52,"type":"quantitative","scale":{"domain":[0.5,53.5],"range":[306,525],"nice":false,"zero":false},"axis":null},"x2":{"datum":57.13},
   "y":{"datum":-7.07,"type":"quantitative","scale":{"domain":[20,80],"range":[301.3,200],"nice":false,"zero":false},"axis":null}}}
],
"resolve":{"scale":{"x":"independent","y":"independent","color":"independent"},"axis":{"x":"independent","y":"independent"},"legend":{"color":"independent"}}
}
